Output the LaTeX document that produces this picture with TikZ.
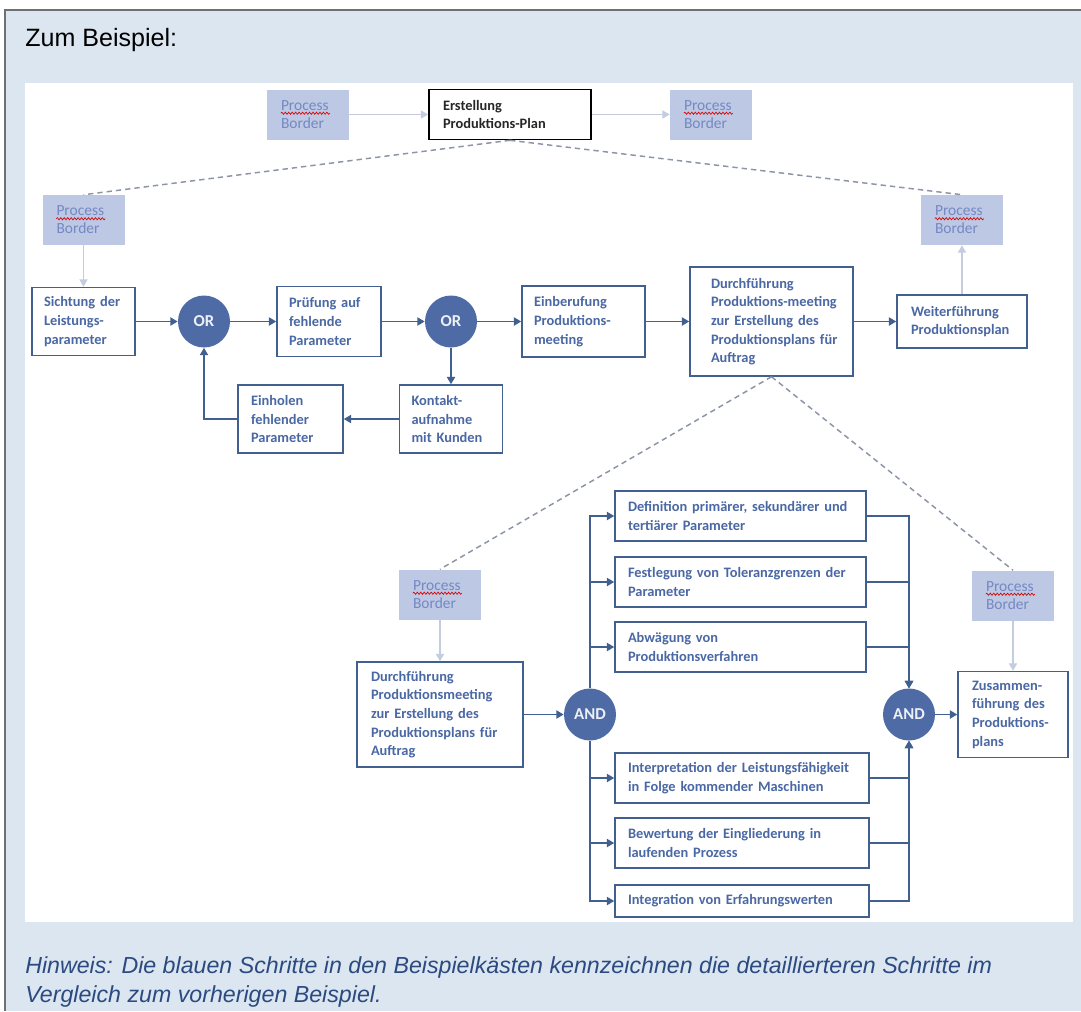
\documentclass[tikz,border=0pt]{standalone}
\usepackage{fontspec}
\setmainfont{Liberation Sans}
\newfontfamily\boxfont{Carlito}
\usepackage{tikz}
\usetikzlibrary{arrows.meta}
\usetikzlibrary{decorations.pathmorphing}
\definecolor{panel}{HTML}{DCE6F1}
\definecolor{frameline}{HTML}{707070}
\definecolor{stepline}{HTML}{41608F}
\definecolor{steptext}{HTML}{4A68A4}
\definecolor{gatefill}{HTML}{4E6BA6}
\definecolor{borderfill}{HTML}{BCC8E4}
\definecolor{bordertext}{HTML}{7588C2}
\definecolor{borderflow}{HTML}{C4CCE0}
\definecolor{dashline}{HTML}{8C95A6}
\definecolor{hinweis}{HTML}{2B4A80}

\begin{document}
\begin{tikzpicture}[
x=0.75pt, y=-0.75pt,
StepBox/.style={draw=stepline,line width=1.1pt,fill=white,text=steptext,align=left,
  inner xsep=9pt,inner ysep=0pt,font={\boxfont\bfseries\fontsize{10.8pt}{14pt}\selectfont}},
BorderBox/.style={fill=borderfill,text=bordertext,align=left,inner xsep=10.5pt,inner ysep=0pt,
  text width=40.5pt,minimum height=37.5pt,font={\boxfont\fontsize{11.6pt}{13.5pt}\selectfont}},
Gate/.style={circle,fill=gatefill,text=white!90!gatefill,minimum size=39pt,inner sep=0pt,
  font={\boxfont\bfseries\fontsize{12.5pt}{14pt}\selectfont}},
Flow/.style={draw=stepline,line width=1.4pt,-{Triangle[length=5.5pt,width=6pt]}},
BorderFlow/.style={draw=borderflow,line width=1.1pt,-{Triangle[length=5.5pt,width=6pt]}},
Link/.style={draw=dashline,line width=1.1pt,dash pattern=on 4pt off 3pt},
Squiggle/.style={draw=red!85!black,line width=0.5pt,decorate,
  decoration={snake,amplitude=0.8pt,segment length=2.6pt}}
]
\useasboundingbox (0,0) rectangle (1081,1011);

% panel and white drawing area
\fill[panel] (5,10) rectangle (1081,1011);
\draw[frameline,line width=1.1pt] (1081,10) -- (5,10) -- (5,1011);
\fill[white] (25,83) rectangle (1073,922);

\node[anchor=base west,inner sep=0pt,font={\fontsize{18.8pt}{22pt}\selectfont}] (title) at (25,46) {Zum Beispiel:};

% top level
\node[BorderBox] (pb1) at (308,114.5) {Process\\Border};
\node[StepBox,draw=black,line width=1.2pt,text=black!85,text width=100.5pt,inner xsep=10.5pt,minimum height=37.5pt] (erst) at (510,114.5) {Erstellung\\Produktions-Plan};
\node[BorderBox] (pb2) at (711,114.5) {Process\\Border};

\node[BorderBox] (pb3) at (83.5,220) {Process\\Border};
\node[BorderBox] (pb4) at (962,220) {Process\\Border};

% main row
\node[StepBox,text width=59.25pt,minimum height=51pt] (sicht) at (83.5,321.5) {Sichtung der\\Leistungs-\\parameter};
\node[Gate] (or1) at (204,321.5) {OR};
\node[StepBox,text width=60pt,minimum height=52.5pt] (pruef) at (329,321.5) {Prüfung auf\\fehlende\\Parameter};
\node[Gate] (or2) at (451,321.5) {OR};
\node[StepBox,text width=74.25pt,minimum height=53.25pt] (einber) at (583.5,321.5) {Einberufung\\Produktions-\\meeting};
\node[StepBox,text width=90.75pt,inner xsep=15.75pt,minimum height=81.75pt] (durch) at (771.5,321.5) {Durchführung\\\mbox{Produktions-meeting}\\zur Erstellung des\\\mbox{Produktionsplans für}\\Auftrag};
\node[StepBox,text width=76.5pt,inner xsep=10.5pt,minimum height=39.75pt] (weiter) at (962,321.5) {Weiterführung\\Produktionsplan};

\node[StepBox,text width=59.25pt,inner xsep=9.75pt,minimum height=51pt] (einhol) at (290.5,419) {Einholen\\fehlender\\Parameter};
\node[StepBox,text width=59.25pt,minimum height=51pt] (kontakt) at (451,419) {Kontakt-\\aufnahme\\mit Kunden};

% detail level
\node[BorderBox] (pb5) at (440,594.5) {Process\\Border};
\node[BorderBox] (pb6) at (1013,595.5) {Process\\Border};

\node[StepBox,text width=103.5pt,inner xsep=10.5pt,minimum height=78.75pt] (durch2) at (440,714.5) {Durchführung\\Produktionsmeeting\\zur Erstellung des\\\mbox{Produktionsplans für}\\Auftrag};
\node[Gate] (and1) at (590,714.5) {AND};
\node[Gate] (and2) at (909,714.5) {AND};
\node[StepBox,text width=61.5pt,inner xsep=10.5pt,minimum height=64.5pt] (zusam) at (1013,714.5) {Zusammen-\\führung des\\Produktions-\\plans};

\node[StepBox,text width=168.75pt,inner xsep=9.75pt,minimum height=37.5pt] (d1) at (740.5,516) {\mbox{Definition primärer, sekundärer und}\\tertiärer Parameter};
\node[StepBox,text width=168.75pt,inner xsep=9.75pt,minimum height=37.5pt] (d2) at (740.5,582) {\mbox{Festlegung von Toleranzgrenzen der}\\Parameter};
\node[StepBox,text width=168.75pt,inner xsep=9.75pt,minimum height=37.5pt] (d3) at (740.5,647) {Abwägung von\\Produktionsverfahren};
\node[StepBox,text width=171pt,inner xsep=9.75pt,minimum height=37.5pt] (d4) at (742,778) {\mbox{Interpretation der Leistungsfähigkeit}\\in Folge kommender Maschinen};
\node[StepBox,text width=171pt,inner xsep=9.75pt,minimum height=37.5pt] (d5) at (742,843) {Bewertung der Eingliederung in\\laufenden Prozess};
\node[StepBox,text width=171pt,inner xsep=9.75pt,minimum height=24pt] (d6) at (742,901) {Integration von Erfahrungswerten};

% spell check marks under Process
\foreach \b in {pb1,pb2,pb3,pb4,pb5,pb6}
  \draw[Squiggle] ([shift={(14,24)}]\b.north west) -- ++(49,0);

% dashed refinement links
\draw[Link] (erst.south) -- (pb3.north);
\draw[Link] (erst.south) -- (pb4.north);
\draw[Link] (durch.south) -- (pb5.north);
\draw[Link] (durch.south) -- (pb6.north);

% process borders
\draw[BorderFlow] (pb1) -- (erst);
\draw[BorderFlow] (erst) -- (pb2);
\draw[BorderFlow] (pb3) -- (sicht);
\draw[BorderFlow] (weiter) -- (pb4);
\draw[BorderFlow] (pb5) -- (durch2);
\draw[BorderFlow] (pb6) -- (zusam);

% flow of the main row
\draw[Flow] (sicht) -- (or1);
\draw[Flow] (or1) -- (pruef);
\draw[Flow] (pruef) -- (or2);
\draw[Flow] (or2) -- (einber);
\draw[Flow] (einber) -- (durch);
\draw[Flow] (durch) -- (weiter);
\draw[Flow] (or2) -- (kontakt);
\draw[Flow] (kontakt) -- (einhol);
\draw[Flow] (einhol) -| (or1);

% AND split and join
\draw[Flow] (durch2) -- (and1);
\foreach \b in {d1,d2,d3,d4,d5,d6}{
  \draw[Flow] (and1) |- (\b);
  \draw[Flow] (\b) -| (and2);
}
\draw[Flow] (and2) -- (zusam);

\node[anchor=west,inner sep=0pt,align=left,text=hinweis,font={\itshape\fontsize{17.4pt}{21.75pt}\selectfont}] (hint) at (25,982) {Hinweis: Die blauen Schritte in den Beispielkästen kennzeichnen die detaillierteren Schritte im\\Vergleich zum vorherigen Beispiel.};
\end{tikzpicture}
\end{document}
